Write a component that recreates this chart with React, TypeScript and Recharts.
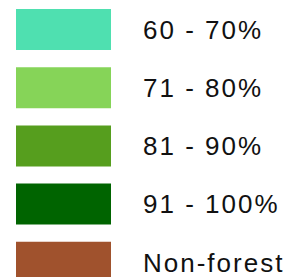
import { Bar, BarChart, Cell, LabelList, XAxis, YAxis } from "recharts"

const classes = ["60 - 70%", "71 - 80%", "81 - 90%", "91 - 100%", "Non-forest"]
const swatch = [1, 1, 1, 1, 1]
const colors = ["#4fe0b0", "#86d458", "#569e1e", "#006400", "#a0522d"]

const data = classes.map((name, i) => ({ name, value: swatch[i] }))

export default function App() {
  return (
    <div style={{ margin: -8 }}>
      <BarChart
        width={300}
        height={291}
        data={data}
        layout="vertical"
        margin={{ top: 0, right: 189, bottom: 0, left: 16 }}
      >
        <XAxis type="number" domain={[0, 1]} hide />
        <YAxis type="category" dataKey="name" hide />
        <Bar dataKey="value" barSize={41} isAnimationActive={false}>
          {data.map((d, i) => (
            <Cell key={d.name} fill={colors[i]} />
          ))}
          <LabelList
            dataKey="name"
            position="right"
            offset={32}
            fill="#111"
            fontSize={26}
            fontFamily="Liberation Sans, Arial, sans-serif"
            style={{ letterSpacing: 2 }}
          />
        </Bar>
      </BarChart>
    </div>
  )
}
